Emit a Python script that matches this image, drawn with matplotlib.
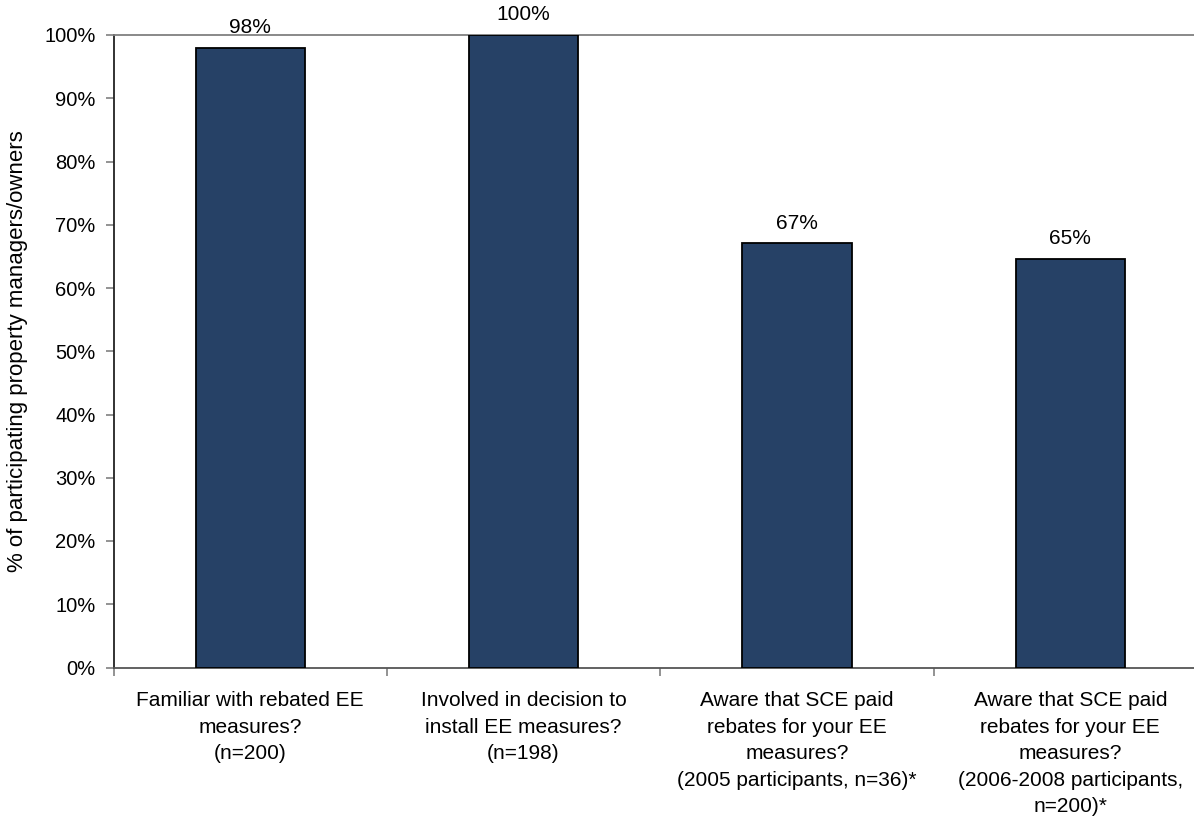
import matplotlib
matplotlib.use("Agg")
import matplotlib.pyplot as plt
import numpy as np

plt.rcParams['font.family'] = ['Liberation Sans', 'DejaVu Sans']

categories = [
    "Familiar with rebated EE\nmeasures?\n(n=200)",
    "Involved in decision to\ninstall EE measures?\n(n=198)",
    "Aware that SCE paid\nrebates for your EE\nmeasures?\n(2005 participants, n=36)*",
    "Aware that SCE paid\nrebates for your EE\nmeasures?\n(2006-2008 participants,\nn=200)*",
]
values = [98.0, 100.0, 67.1, 64.6]
y_ticks = [0, 10, 20, 30, 40, 50, 60, 70, 80, 90, 100]
y_label = "% of participating property managers/owners"

bar_color = "#264166"
W, H = 1194, 816
fig = plt.figure(figsize=(W / 100, H / 100), dpi=100)
# plot area runs slightly past the right edge of the figure
left, right = 113.5 / W, 1207 / W
bottom, top = (H - 667.5) / H, (H - 35) / H
ax = fig.add_axes([left, bottom, right - left, top - bottom])

x = np.arange(len(categories))
ax.bar(x, values, width=0.4, color=bar_color, edgecolor="black", linewidth=1.3, zorder=3)

for xi, v in zip(x, values):
    ax.annotate(f"{v:.0f}%", xy=(xi, v), xytext=(0, 10.5), textcoords="offset points",
                ha="center", va="baseline", fontsize=15, color="black")

ax.set_xlim(-0.5, len(categories) - 0.5)
ax.set_ylim(0, 100)
ax.set_yticks(y_ticks)
ax.set_yticklabels([f"{t}%" for t in y_ticks], fontsize=14.5)

ax.set_xticks(x)
ax.set_xticklabels(categories, fontsize=15, linespacing=1.5)
ax.set_xticks(np.arange(-0.5, len(categories) - 0.4, 1.0), minor=True)
ax.tick_params(axis="x", which="major", length=0, pad=17)
ax.tick_params(axis="x", which="minor", length=6, width=1.2, color="#808080")
ax.tick_params(axis="y", which="major", length=6, width=1.2, color="#808080", pad=7)

ax.spines["right"].set_visible(False)
ax.spines["top"].set_color("#808080")
ax.spines["top"].set_linewidth(1.3)
ax.spines["bottom"].set_color("#555555")
ax.spines["bottom"].set_linewidth(1.3)
ax.spines["left"].set_color("#222222")
ax.spines["left"].set_linewidth(1.3)

fig.text(18 / W, (bottom + top) / 2, y_label, rotation=90, ha="center", va="center", fontsize=16)

fig.savefig("out.png", dpi=100, facecolor="white")
